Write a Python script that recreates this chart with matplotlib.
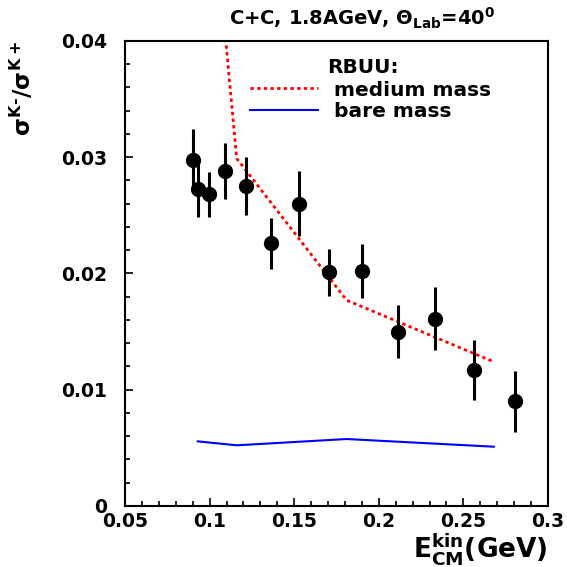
import numpy as np
import matplotlib
matplotlib.use('Agg')
import matplotlib.pyplot as plt
from matplotlib.ticker import MultipleLocator

plt.rcParams['font.family'] = ['DejaVu Sans']
plt.rcParams['font.weight'] = 'bold'
plt.rcParams['axes.labelweight'] = 'bold'
plt.rcParams['mathtext.fontset'] = 'custom'
plt.rcParams['mathtext.rm'] = 'DejaVu Sans:bold'
plt.rcParams['mathtext.it'] = 'DejaVu Sans:bold'
plt.rcParams['mathtext.bf'] = 'DejaVu Sans:bold'

# measured K-/K+ ratio
e_kin = [0.0904, 0.0933, 0.0997, 0.1093, 0.1213, 0.1361, 0.1528,
         0.1707, 0.1902, 0.2111, 0.2333, 0.2563, 0.2803]
ratio = [0.0298, 0.0273, 0.0268, 0.0288, 0.0275, 0.0226, 0.0260,
         0.0201, 0.0202, 0.0150, 0.0161, 0.0117, 0.0090]
ratio_err = [0.0026, 0.0024, 0.0019, 0.0024, 0.0025, 0.0022, 0.0028,
             0.0020, 0.0023, 0.0023, 0.0027, 0.0026, 0.0026]

# RBUU calculations
e_model = [0.093, 0.116, 0.181, 0.268]
medium_mass = [0.066, 0.0299, 0.0177, 0.0124]
bare_mass = [0.00556, 0.00522, 0.00576, 0.00510]

fig = plt.figure(figsize=(5.67, 5.67), dpi=100)
ax = fig.add_axes([0.2205, 0.1076, 0.746, 0.8201])

ax.plot(e_model, medium_mass, color='red', linestyle=(0, (1.2, 1.2)), lw=2,
        label='medium mass')
ax.plot(e_model, bare_mass, color='blue', lw=1.5, label='bare mass')
ax.errorbar(e_kin, ratio, yerr=ratio_err, fmt='o', color='black',
            markersize=10, elinewidth=2.2, capsize=0, zorder=5)

ax.set_xlim(0.05, 0.3)
ax.set_ylim(0, 0.04)
ax.xaxis.set_minor_locator(MultipleLocator(0.01))
ax.yaxis.set_minor_locator(MultipleLocator(0.002))
ax.set_xticks([0.05, 0.1, 0.15, 0.2, 0.25, 0.3])
ax.set_xticklabels(['0.05', '0.1', '0.15', '0.2', '0.25', '0.3'])
ax.set_yticks([0, 0.01, 0.02, 0.03, 0.04])
ax.set_yticklabels(['0', '0.01', '0.02', '0.03', '0.04'])
ax.tick_params(which='both', direction='in', top=False, right=False,
               labelsize=13.5, width=1.2)
ax.tick_params(which='major', length=6)
ax.tick_params(which='minor', length=3.5)
ax.tick_params(axis='y', pad=13)
ax.tick_params(axis='x', pad=4)
for s in ax.spines.values():
    s.set_linewidth(1.5)

ax.set_xlabel(r'E$_{\mathregular{CM}}^{\mathregular{kin}}$(GeV)', fontsize=19,
              loc='right', labelpad=0)
ax.set_ylabel(r'$\sigma^{\mathregular{K\text{-}}}/\sigma^{\mathregular{K+}}$',
              fontsize=16.5, loc='top', labelpad=18)

ax.text(0.478, 0.944, 'RBUU:', transform=ax.transAxes, fontsize=14.5,
        fontweight='bold', va='center', ha='left')
ax.legend(loc='upper left', bbox_to_anchor=(0.2955, 0.915), frameon=False,
          fontsize=14.5, handlelength=3.4, handletextpad=0.75, labelspacing=0.12,
          borderpad=0, borderaxespad=0)

fig.text(0.639, 0.968, r'C+C, 1.8AGeV, $\Theta_{\mathregular{Lab}}$=40$^{\mathregular{0}}$',
         ha='center', va='center', fontsize=14, fontweight='bold')

fig.savefig('out.png', dpi=100)
